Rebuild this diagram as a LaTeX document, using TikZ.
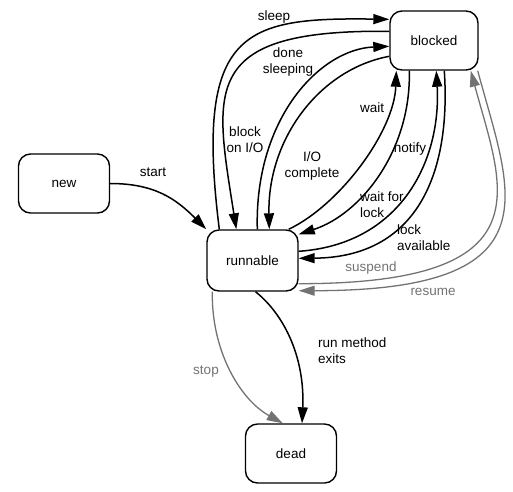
\documentclass[tikz,border=0pt]{standalone}
\usepackage{fontspec}
\setmainfont{Liberation Sans}
\usetikzlibrary{arrows.meta}
\definecolor{greyline}{gray}{0.45}

\tikzset{
  state/.style={draw, line width=1.4pt, rounded corners=12pt, minimum width=91pt, minimum height=59pt, inner sep=0pt, font=\fontsize{13.5}{16}\selectfont},
  tline/.style={line width=1.5pt, -{Triangle[length=16pt,width=10pt]}},
  gtline/.style={line width=1.3pt, draw=greyline, -{Triangle[length=16pt,width=10pt,fill=greyline]}},
  lbl/.style={inner sep=0pt, font=\fontsize{13.5}{16}\selectfont, align=center}
}

\begin{document}
\begin{tikzpicture}[x=1pt,y=-1pt]
\useasboundingbox (0,0) rectangle (513,491);

\node[state] (new) at (64,183.5) {new};
\node[state, minimum height=61pt] (runnable) at (252.5,260.5) {runnable};
\node[state, minimum width=88pt] (blocked) at (434,40.5) {blocked};
\node[state] (dead) at (291,453.5) {dead};

\draw[tline] (new.east) .. controls +(45,0) and +(-30,-30) .. (runnable.north west);
\node[lbl] (lstart) at (153,172) {start};

\draw[tline] ([xshift=13pt]runnable.north west) .. controls +(-25,-200) and +(-145,-2) .. ([yshift=-9pt]blocked.north west);
\draw[tline] ([yshift=-21pt]blocked.north west) .. controls +(-190,-2) and +(-22,-140) .. ([xshift=30pt]runnable.north west);
\draw[tline] ([xshift=51pt]runnable.north west) .. controls +(-3,-110) and +(-70,3) .. ([yshift=-36pt]blocked.north west);
\draw[tline] ([yshift=-46pt]blocked.north west) .. controls +(-70,13) and +(-2,-90) .. ([xshift=63pt]runnable.north west);
\node[lbl] (lsleep) at (274,17) {sleep};
\node[lbl] (ldone) at (288,62) {done\\sleeping};
\node[lbl] (lblock) at (245,140) {block\\on I/O};
\node[lbl] (lcomplete) at (312,166) {I/O\\complete};

\draw[tline] ([xshift=-10pt]runnable.north east) .. controls +(52,-25) and +(-2,60) .. ([xshift=7pt]blocked.south west);
\draw[tline] ([xshift=20pt]blocked.south west) .. controls +(2,80) and +(62,-20) .. ([yshift=-5pt]runnable.north east);
\draw[tline] ([yshift=-22pt]runnable.north east) .. controls +(102,-7) and +(5,90) .. ([xshift=47pt]blocked.south west);
\draw[tline] ([xshift=55pt]blocked.south west) .. controls +(7,105) and +(117,-1) .. ([yshift=-29pt]runnable.north east);
\node[lbl] (lwait) at (372,108) {wait};
\node[lbl] (lnotify) at (410,149) {notify};
\node[lbl, align=left, anchor=west] (lwaitlock) at (360,205) {wait for\\lock};
\node[lbl, align=left, anchor=west] (lavail) at (397,238) {lock\\available};

\draw[gtline] ([yshift=8pt]runnable.south east) .. controls +(250,0) and +(32,118) .. ([xshift=-8pt]blocked.south east);
\draw[gtline] ([xshift=-1pt]blocked.south east) .. controls +(32,120) and +(262,0) .. ([yshift=1pt]runnable.south east);
\node[lbl, text=greyline] (lsuspend) at (371,268) {suspend};
\node[lbl, text=greyline] (lresume) at (433,292) {resume};

\draw[gtline] ([xshift=6pt]runnable.south west) .. controls +(-1,59) and +(-43,-24) .. ([xshift=38pt]dead.north west);
\draw[tline] ([xshift=3pt]runnable.south) .. controls +(30,24) and +(3,-64) .. ([xshift=11pt]dead.north);
\node[lbl, text=greyline] (lstop) at (206,372) {stop};
\node[lbl, align=left, anchor=west] (lexits) at (318,351) {run method\\exits};
\end{tikzpicture}
\end{document}
